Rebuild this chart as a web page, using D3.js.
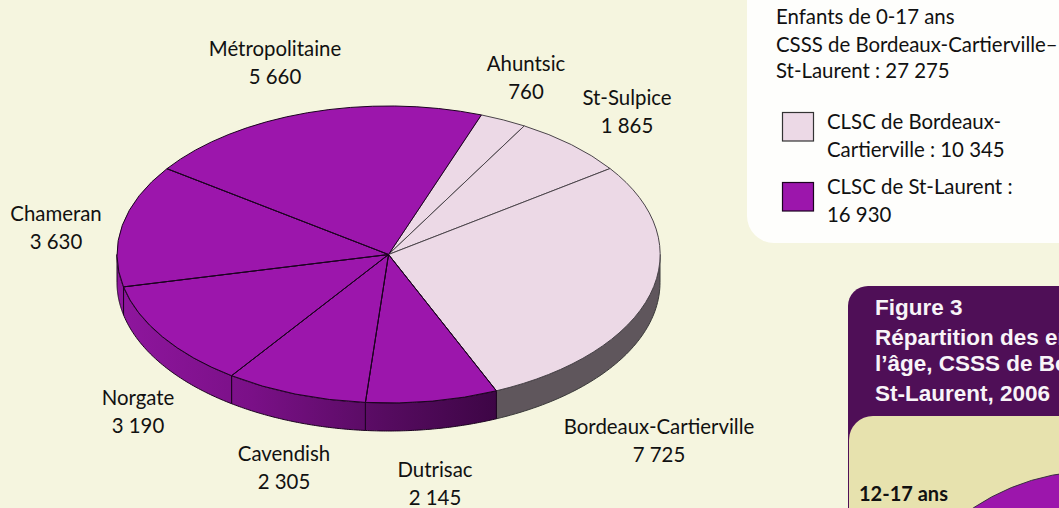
<!DOCTYPE html>
<html>
<head>
<meta charset="utf-8">
<script src="https://cdn.jsdelivr.net/npm/d3@7"></script>
<style>
  html, body { margin: 0; padding: 0; background: #f5f5df; overflow: hidden; }
  svg { display: block; }
  text { font-family: Lato, "Open Sans", sans-serif; fill: #111; }
  .fig { font-family: "Liberation Sans", Arial, sans-serif; font-weight: bold; fill: #f8f4f8; font-size: 22.5px; }
  .slice, .wall { vector-effect: non-scaling-stroke; }
</style>
</head>
<body>
<div id="chart"></div>
<script>
const territories = ['Ahuntsic', 'St-Sulpice', 'Bordeaux-Cartierville', 'Dutrisac', 'Cavendish', 'Norgate', 'Chameran', 'Métropolitaine'];
const children = [760, 1865, 7725, 2145, 2305, 3190, 3630, 5660];
const childLabels = ['760', '1 865', '7 725', '2 145', '2 305', '3 190', '3 630', '5 660'];
const clsc = ['b', 'b', 'b', 's', 's', 's', 's', 's'];

const legendLines = [['CLSC de Bordeaux-', 'Cartierville : 10 345'], ['CLSC de St-Laurent :', '16 930']];
const headerLines = ['Enfants de 0-17 ans', 'CSSS de Bordeaux-Cartierville–', 'St-Laurent : 27 275'];
const figureLines = ['Figure 3', 'Répartition des enfants selon', 'l’âge, CSSS de Bordeaux-Cartierville–', 'St-Laurent, 2006'];

const width = 1059, height = 508;
const cx = 388.5, cy = 254.5, rx = 271.5, ry = 148.5, depth = 28;
const purple = '#9c16ac', pale = '#ecd9e6';
const labelSize = 20.4;

// centre and first baseline of each two-line label, same order as territories
const labelX = [526, 627, 659, 435, 284, 138, 56, 275];
const labelY = [71, 105, 434, 477, 461, 405, 221, 56];

const svg = d3.select('#chart').append('svg')
  .attr('width', width)
  .attr('height', height);

const defs = svg.append('defs');
const grad = defs.append('linearGradient')
  .attr('id', 'wallPurple')
  .attr('gradientUnits', 'userSpaceOnUse')
  .attr('x1', cx - rx).attr('x2', cx + rx * 0.42)
  .attr('y1', 0).attr('y2', 0);
grad.append('stop').attr('offset', '0%').attr('stop-color', '#8f169e');
grad.append('stop').attr('offset', '35%').attr('stop-color', '#7a1087');
grad.append('stop').attr('offset', '70%').attr('stop-color', '#560b60');
grad.append('stop').attr('offset', '100%').attr('stop-color', '#3c0544');

const pie = d3.pie()
  .sort(null)
  .startAngle(20 * Math.PI / 180)
  .endAngle(380 * Math.PI / 180);
const arcs = pie(children);

// unit circle, stretched to the ellipse with a transform
const arc = d3.arc().innerRadius(0).outerRadius(1);

const angleX = d3.scaleLinear().domain([0, 1]).range([cx, cx + rx]);
const angleY = d3.scaleLinear().domain([0, 1]).range([cy, cy + ry]);
const px = a => angleX(Math.sin(a));
const py = a => angleY(-Math.cos(a));

// side wall only shows on the front half
function wallPath(a0, a1) {
  const from = Math.max(a0, Math.PI / 2), to = Math.min(a1, Math.PI * 3 / 2);
  if (from >= to) return null;
  const steps = d3.range(0, 61).map(i => from + (to - from) * i / 60);
  const top = steps.map(a => [px(a), py(a)]);
  const bottom = steps.slice().reverse().map(a => [px(a), py(a) + depth]);
  return d3.line()(top.concat(bottom)) + 'Z';
}

svg.append('g').selectAll('path')
  .data(arcs.filter(d => wallPath(d.startAngle, d.endAngle)))
  .join('path')
  .attr('class', 'wall')
  .attr('d', d => wallPath(d.startAngle, d.endAngle))
  .attr('fill', d => clsc[d.index] === 'b' ? '#5f565c' : 'url(#wallPurple)')
  .attr('stroke', d => clsc[d.index] === 'b' ? '#3a3a3a' : '#1c0320')
  .attr('stroke-width', 1);

svg.append('g')
  .attr('transform', `translate(${cx},${cy}) scale(${rx},${ry})`)
  .selectAll('path')
  .data(arcs)
  .join('path')
  .attr('class', 'slice')
  .attr('d', arc)
  .attr('fill', d => clsc[d.index] === 'b' ? pale : purple)
  .attr('stroke', d => clsc[d.index] === 'b' ? '#4a444a' : '#1c0320')
  .attr('stroke-width', 1);

// redraw the purple borders on top of the pale ones
svg.append('g')
  .selectAll('line')
  .data(arcs.filter(d => clsc[d.index] === 's'))
  .join('line')
  .attr('x1', cx).attr('y1', cy)
  .attr('x2', d => px(d.startAngle)).attr('y2', d => py(d.startAngle))
  .attr('stroke', '#1c0320').attr('stroke-width', 1);

const labels = svg.append('g').selectAll('text')
  .data(territories)
  .join('text')
  .attr('text-anchor', 'middle')
  .attr('font-size', labelSize)
  .attr('transform', (d, i) => `translate(${labelX[i]},${labelY[i]})`);
labels.append('tspan').attr('x', 0).attr('y', 0).text(d => d);
labels.append('tspan').attr('x', 0).attr('y', 27.5).text((d, i) => childLabels[i]);

// legend panel, runs off the top and right of the page
svg.append('rect')
  .attr('x', 747).attr('y', -40)
  .attr('width', 360).attr('height', 283)
  .attr('rx', 27)
  .attr('fill', '#fefefc');

const headerY = [24, 52, 78];
svg.append('g').selectAll('text')
  .data(headerLines)
  .join('text')
  .attr('x', 776)
  .attr('y', (d, i) => headerY[i])
  .attr('font-size', labelSize)
  .text(d => d);

const swatchY = [112, 182];
const legendFill = [pale, purple];
const legendTextY = [[129, 157], [194, 222]];
const legend = svg.append('g').selectAll('g')
  .data(legendLines)
  .join('g');
legend.append('rect')
  .attr('x', 782.5).attr('y', (d, i) => swatchY[i] + 0.5)
  .attr('width', 31).attr('height', 28.5)
  .attr('fill', (d, i) => legendFill[i])
  .attr('stroke', (d, i) => i ? '#1c0320' : '#333')
  .attr('stroke-width', 1.2);
legend.append('text')
  .attr('x', 827).attr('y', (d, i) => legendTextY[i][0])
  .attr('font-size', labelSize)
  .text(d => d[0]);
legend.append('text')
  .attr('x', 827).attr('y', (d, i) => legendTextY[i][1])
  .attr('font-size', labelSize)
  .text(d => d[1]);

// next figure, cut by the page edge
svg.append('rect')
  .attr('x', 848).attr('y', 286)
  .attr('width', 320).attr('height', 300)
  .attr('rx', 20)
  .attr('fill', '#4f0f57');
svg.append('rect')
  .attr('x', 849).attr('y', 416)
  .attr('width', 320).attr('height', 200)
  .attr('rx', 24)
  .attr('fill', '#e7e2ae');

const figureY = [315, 345, 371, 401];
svg.append('g').selectAll('text')
  .data(figureLines)
  .join('text')
  .attr('class', 'fig')
  .attr('x', 875)
  .attr('y', (d, i) => figureY[i])
  .text(d => d);

const insetArc = d3.arc().innerRadius(0).outerRadius(219);
svg.append('path')
  .attr('transform', 'translate(1095,690)')
  .attr('d', insetArc({ startAngle: -Math.PI, endAngle: Math.PI }))
  .attr('fill', purple)
  .attr('stroke', '#3a3040')
  .attr('stroke-width', 1);

svg.append('text')
  .attr('x', 859).attr('y', 501)
  .attr('font-size', 20)
  .attr('font-weight', 'bold')
  .text('12-17 ans');
</script>
</body>
</html>
